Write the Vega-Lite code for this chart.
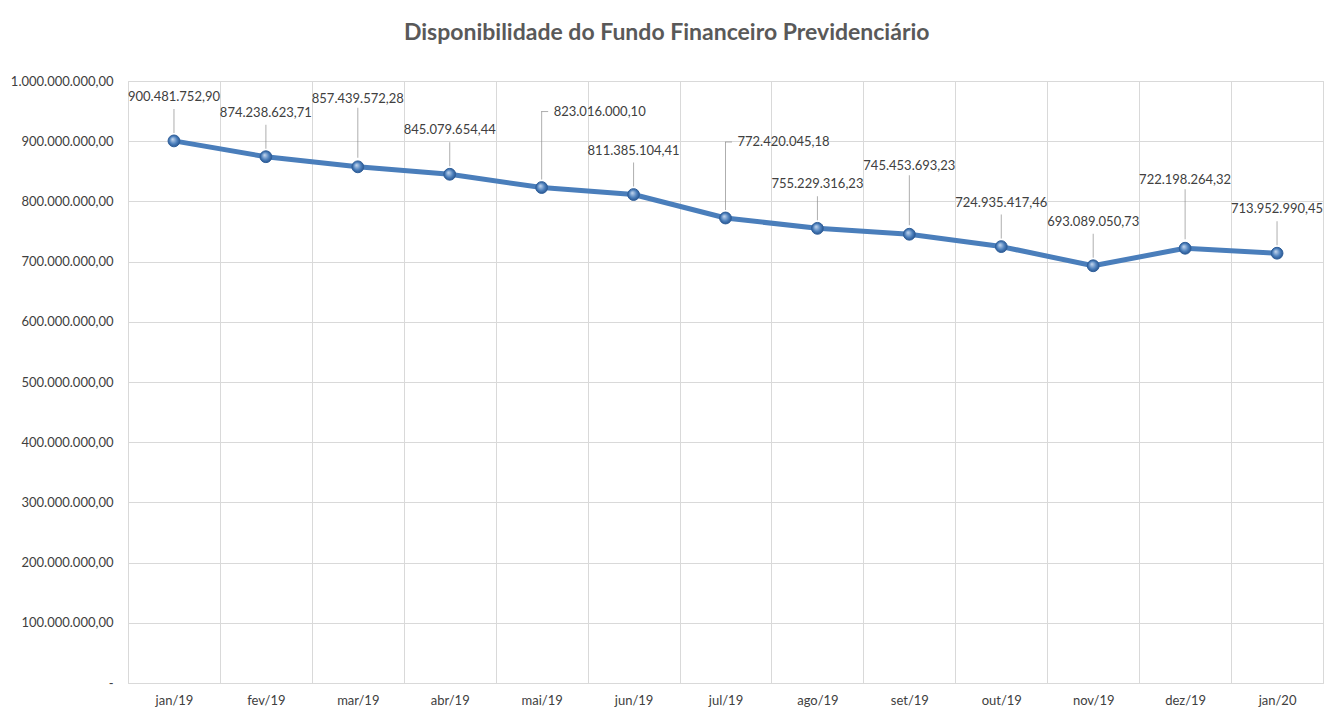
{
  "$schema": "https://vega.github.io/schema/vega-lite/v6.json",
  "width": 1329,
  "height": 710,
  "autosize": {"type": "fit", "contains": "padding"},
  "padding": {"left": 10, "top": 22, "right": 6, "bottom": 3},
  "background": "white",
  "config": {
    "locale": {"number": {"decimal": ",", "thousands": ".", "grouping": [3], "currency": ["R$", ""]}},
    "font": "Lato",
    "view": {"stroke": "#d9d9d9", "strokeWidth": 1}
  },
  "title": {
    "text": "Disponibilidade do Fundo Financeiro Previdenciário",
    "anchor": "middle",
    "frame": "bounds",
    "fontSize": 23,
    "fontWeight": "bold",
    "color": "#595959",
    "font": "Lato",
    "offset": 30
  },
  "data": {
    "values": [
      {"mes": "jan/19", "valor": 900481752.90},
      {"mes": "fev/19", "valor": 874238623.71},
      {"mes": "mar/19", "valor": 857439572.28},
      {"mes": "abr/19", "valor": 845079654.44},
      {"mes": "mai/19", "valor": 823016000.10},
      {"mes": "jun/19", "valor": 811385104.41},
      {"mes": "jul/19", "valor": 772420045.18},
      {"mes": "ago/19", "valor": 755229316.23},
      {"mes": "set/19", "valor": 745453693.23},
      {"mes": "out/19", "valor": 724935417.46},
      {"mes": "nov/19", "valor": 693089050.73},
      {"mes": "dez/19", "valor": 722198264.32},
      {"mes": "jan/20", "valor": 713952990.45}
    ]
  },
  "encoding": {
    "x": {
      "field": "mes",
      "type": "ordinal",
      "sort": null,
      "scale": {"type": "band", "paddingInner": 0, "paddingOuter": 0},
      "axis": {
        "title": null,
        "labelAngle": 0,
        "domain": false,
        "ticks": false,
        "grid": true,
        "tickBand": "extent",
        "gridColor": "#d9d9d9",
        "labelFontSize": 13,
        "labelColor": "#404040",
        "labelPadding": 11
      }
    },
    "y": {
      "field": "valor",
      "type": "quantitative",
      "scale": {"domain": [0, 1000000000]},
      "axis": {
        "title": null,
        "values": [0, 100000000, 200000000, 300000000, 400000000, 500000000, 600000000, 700000000, 800000000, 900000000, 1000000000],
        "format": ",.2f",
        "labelExpr": "datum.value == 0 ? '-' : datum.label",
        "domain": false,
        "ticks": false,
        "gridColor": "#d9d9d9",
        "labelFontSize": 13,
        "labelColor": "#404040",
        "labelPadding": 15
      }
    }
  },
  "layer": [
    {"mark": {"type": "line", "color": "#4a7ebb", "strokeWidth": 5, "strokeJoin": "round"}},
    {
      "transform": [{"filter": {"field": "mes", "oneOf": ["jan/19", "fev/19", "abr/19", "jun/19", "ago/19", "out/19", "nov/19", "jan/20"]}}],
      "mark": {"type": "tick", "orient": "vertical", "size": 24, "thickness": 1, "color": "#8c8c8c", "yOffset": -20}
    },
    {
      "transform": [{"filter": {"field": "mes", "oneOf": ["mar/19", "set/19", "dez/19"]}}],
      "mark": {"type": "tick", "orient": "vertical", "size": 50, "thickness": 1, "color": "#8c8c8c", "yOffset": -34}
    },
    {
      "transform": [{"filter": {"field": "mes", "oneOf": ["mai/19", "jul/19"]}}],
      "mark": {"type": "tick", "orient": "vertical", "size": 68, "thickness": 1, "color": "#8c8c8c", "yOffset": -42}
    },
    {
      "transform": [{"filter": {"field": "mes", "oneOf": ["mai/19", "jul/19"]}}],
      "mark": {"type": "tick", "orient": "horizontal", "size": 7, "thickness": 1, "color": "#8c8c8c", "yOffset": -76, "xOffset": 3}
    },
    {
      "mark": {
        "type": "point",
        "filled": true,
        "size": 140,
        "opacity": 1,
        "fill": {
          "gradient": "radial",
          "x1": 0.38, "y1": 0.35, "r1": 0,
          "x2": 0.5, "y2": 0.5, "r2": 0.55,
          "stops": [{"offset": 0, "color": "#c9daf0"}, {"offset": 0.6, "color": "#4a7ebb"}, {"offset": 1, "color": "#25508a"}]
        },
        "stroke": "#2f5f9a",
        "strokeWidth": 1
      }
    },
    {
      "transform": [{"filter": {"field": "mes", "oneOf": ["jan/19", "fev/19", "abr/19", "jun/19", "ago/19", "out/19", "nov/19", "jan/20"]}}],
      "mark": {"type": "text", "dy": -44, "fontSize": 13, "color": "#404040", "font": "Lato"},
      "encoding": {"text": {"field": "valor", "type": "quantitative", "format": ",.2f"}}
    },
    {
      "transform": [{"filter": {"field": "mes", "oneOf": ["mar/19", "set/19", "dez/19"]}}],
      "mark": {"type": "text", "dy": -68, "fontSize": 13, "color": "#404040", "font": "Lato"},
      "encoding": {"text": {"field": "valor", "type": "quantitative", "format": ",.2f"}}
    },
    {
      "transform": [{"filter": {"field": "mes", "oneOf": ["mai/19", "jul/19"]}}],
      "mark": {"type": "text", "dy": -76, "dx": 12, "align": "left", "fontSize": 13, "color": "#404040", "font": "Lato"},
      "encoding": {"text": {"field": "valor", "type": "quantitative", "format": ",.2f"}}
    }
  ]
}
